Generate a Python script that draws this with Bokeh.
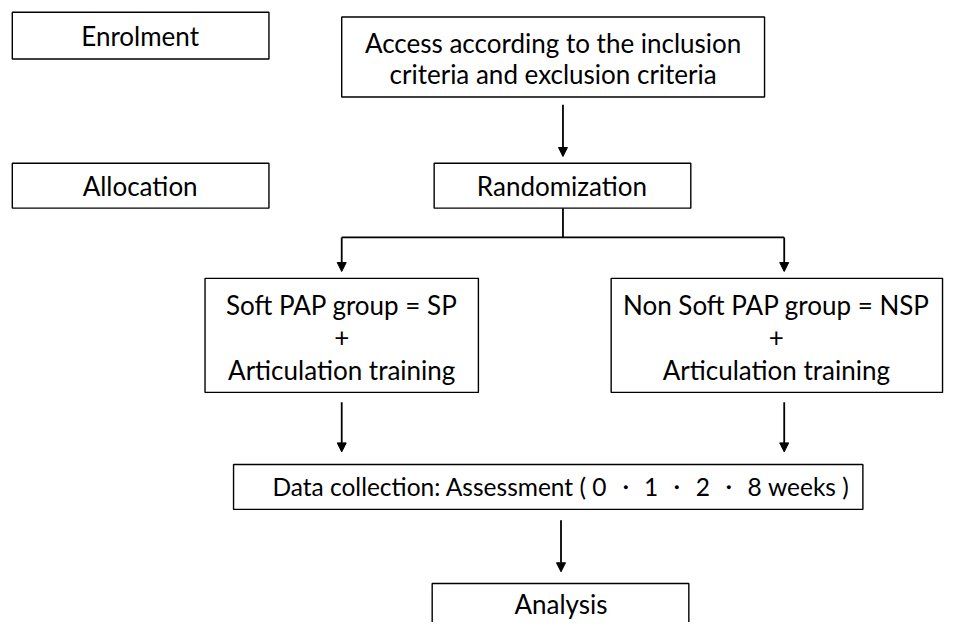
from bokeh.plotting import figure
from bokeh.models import Range1d, Arrow, NormalHead, ColumnDataSource
from bokeh.core.properties import value
from bokeh.embed import file_html
from bokeh.resources import INLINE

# ---- content ----
box_labels = [
    "Enrolment",
    "Access according to the inclusion\ncriteria and exclusion criteria",
    "Allocation",
    "Randomization",
    "Soft PAP group = SP\n+\nArticulation training",
    "Non Soft PAP group = NSP\n+\nArticulation training",
    "Data collection: Assessment ( 0 \u30fb 1 \u30fb 2 \u30fb 8 weeks )",
    "Analysis",
]

# ---- layout (reference pixel coordinates, y downward) ----
box_left = [12, 347, 12, 441, 208, 621, 237, 439]
box_right = [273, 777, 273, 702, 486, 958, 877, 700]
box_top = [12, 17, 167, 167, 285, 285, 476, 598]
box_bottom = [60, 99, 213, 213, 402, 402, 522, 680]
text_cx = [142, 562, 142, 571, 347, 789, 570, 570]
line_y = [[36], [44, 75], [190], [190], [312, 345, 379], [312, 345, 379], [499], [619]]
font_sizes = ["26px", "26px", "26px", "26px", "26px", "26px", "24.5px", "26px"]

FONT = "Lato"

p = figure(width=944, height=622, output_backend="svg", toolbar_location=None,
           x_range=Range1d(0, 960), y_range=Range1d(638, 0),
           min_border=0)
p.axis.visible = False
p.grid.visible = False
p.outline_line_color = None
p.background_fill_color = "white"
p.border_fill_color = "white"

p.quad(left=box_left, right=box_right, top=box_top, bottom=box_bottom,
       fill_color="white", line_color="black", line_width=1.4)

tx, ty, tt, tf = [], [], [], []
for lab, cx, ys, fs in zip(box_labels, text_cx, line_y, font_sizes):
    for s, y in zip(lab.split("\n"), ys):
        tx.append(cx)
        ty.append(y)
        tt.append(s)
        tf.append(fs)
src = ColumnDataSource(dict(x=tx, y=ty, t=tt, fs=tf))
p.text(x="x", y="y", text="t", source=src, text_font=value(FONT),
       text_font_size="fs", text_align="center", text_baseline="middle",
       text_color="black")

# connector lines (no heads)
p.segment(x0=[572, 347], y0=[213, 243], x1=[572, 797], y1=[243, 243],
          line_color="black", line_width=1.8)

# arrows
arrows = [
    (572, 107, 572, 160),
    (347, 243, 347, 278),
    (797, 243, 797, 278),
    (347, 412, 347, 463),
    (797, 412, 797, 463),
    (570, 533, 570, 586),
]
for x0, y0, x1, y1 in arrows:
    p.add_layout(Arrow(end=NormalHead(size=9, fill_color="black", line_color="black"),
                       x_start=x0, y_start=y0, x_end=x1, y_end=y1,
                       line_color="black", line_width=1.8))

open("out.html", "w").write(file_html(p, INLINE))
